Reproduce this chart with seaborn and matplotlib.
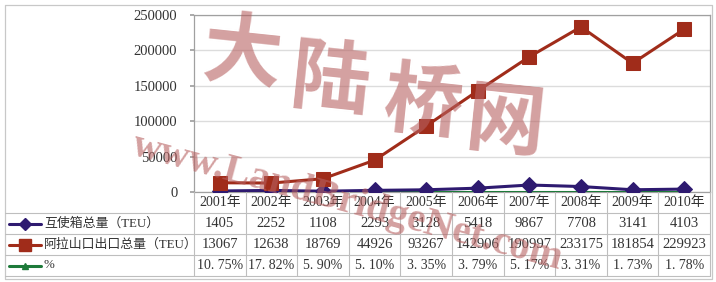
import matplotlib
matplotlib.use("Agg")
import matplotlib.pyplot as plt
import seaborn as sns
import pandas as pd
import numpy as np
from matplotlib.lines import Line2D

years = ["2001年", "2002年", "2003年", "2004年", "2005年", "2006年", "2007年", "2008年", "2009年", "2010年"]
series_names = ["互使箱总量（TEU）", "阿拉山口出口总量（TEU）", "%"]
hu_shi = [1405, 2252, 1108, 2293, 3128, 5418, 9867, 7708, 3141, 4103]
ala_shan = [13067, 12638, 18769, 44926, 93267, 142906, 190997, 233175, 181854, 229923]
pct = [0.1075, 0.1782, 0.0590, 0.0510, 0.0335, 0.0379, 0.0517, 0.0331, 0.0173, 0.0178]
pct_labels = ["10.75%", "17.82%", "5.90%", "5.10%", "3.35%", "3.79%", "5.17%", "3.31%", "1.73%", "1.78%"]
yticks = [0, 50000, 100000, 150000, 200000, 250000]

sns.set_theme(style="white")
plt.rcParams['font.family'] = ['Liberation Serif', 'Noto Sans CJK SC']

W, H = 716, 282
fig = plt.figure(figsize=(W / 100, H / 100), dpi=100)
fig.patch.set_facecolor("white")

L, R, T, B = 194, 710, 15, 192
ax = fig.add_axes([L / W, 1 - B / H, (R - L) / W, (B - T) / H])

colors = {"互使箱总量（TEU）": "#2E1A70", "阿拉山口出口总量（TEU）": "#A02C1A", "%": "#1E7A3A"}
markers = {"互使箱总量（TEU）": "D", "阿拉山口出口总量（TEU）": "s", "%": "^"}
msizes = {"互使箱总量（TEU）": 8.5, "阿拉山口出口总量（TEU）": 10, "%": 6}

values = {"互使箱总量（TEU）": hu_shi, "阿拉山口出口总量（TEU）": ala_shan, "%": pct}
idx = np.arange(len(years))
for name in ["%", "互使箱总量（TEU）", "阿拉山口出口总量（TEU）"]:
    df = pd.DataFrame({"x": idx, "y": values[name]})
    sns.lineplot(data=df, x="x", y="y", ax=ax, color=colors[name], marker=markers[name],
                 markersize=msizes[name], markeredgecolor=colors[name], linewidth=2.2,
                 legend=False, zorder=3)

ax.set_xlim(-0.5, len(years) - 0.5)
ax.set_ylim(0, 250000)
ax.set_yticks(yticks)
ax.set_yticklabels([str(v) for v in yticks], fontsize=10.5, color="#333333",
                   family="Liberation Serif")
ax.set_xticks([])
ax.set_xlabel("")
ax.set_ylabel("")
ax.grid(axis="y", color="#DCDCDC", linewidth=1.0)
ax.set_axisbelow(True)
for s in ax.spines.values():
    s.set_color("#A0A0A0")
    s.set_linewidth(0.9)
ax.tick_params(axis="y", length=3, color="#A0A0A0", pad=9, left=True)

# overlay in pixel coordinates for table & watermark
ov = fig.add_axes([0, 0, 1, 1], zorder=5)
ov.set_xlim(0, W)
ov.set_ylim(H, 0)
ov.axis("off")
ov.patch.set_alpha(0)

# outer frame
ov.plot([5, 712, 712, 5, 5], [5, 5, 279, 279, 5], color="#C8C8C8", lw=0.9)

rows_y = [192, 213, 234, 255, 276]
colw = (R - L) / len(years)
gc = "#BEBEBE"
for y in rows_y[1:]:
    ov.plot([5, R], [y, y], color=gc, lw=0.8)
for k in range(len(years) + 1):
    x = L + k * colw
    ov.plot([x, x], [192, 276], color=gc, lw=0.8)

txt_color = "#333333"
for i, yr in enumerate(years):
    cx = L + (i + 0.5) * colw
    ov.text(cx, 202.5, yr, ha="center", va="center", fontsize=10, color=txt_color)
    ov.text(cx, 223.5, str(hu_shi[i]), ha="center", va="center", fontsize=10.5, color=txt_color)
    ov.text(cx, 244.5, str(ala_shan[i]), ha="center", va="center", fontsize=10.5, color=txt_color)
    ov.text(cx, 265.5, pct_labels[i].replace(".", ". "), ha="center", va="center", fontsize=10, color=txt_color)

for j, name in enumerate(series_names):
    cy = 223.5 + j * 21
    ov.add_line(Line2D([9, 41], [cy, cy], color=colors[name], lw=2.2))
    ov.add_line(Line2D([25], [cy], marker=markers[name], markersize=msizes[name] - 2,
                       color=colors[name], markeredgecolor=colors[name]))
    ov.text(44, cy, name, ha="left", va="center", fontsize=9.3, color=txt_color)

# watermark
wm = "#B76161"
for ch, (cx, cy) in zip("大陆桥网", [(242, 55), (330, 82), (423, 104), (505, 124)]):
    ov.text(cx, cy, ch, ha="center", va="center", fontsize=57, color=wm, alpha=0.6,
            family="Noto Sans CJK SC", fontweight="heavy", rotation=-6)
ov.text(347, 203, "www.LandBridgeNet.com", ha="center", va="center", fontsize=29,
        color=wm, alpha=0.6, family="Liberation Serif", fontweight="bold", rotation=-15,
        rotation_mode="anchor")

fig.savefig("out.png", dpi=100)
